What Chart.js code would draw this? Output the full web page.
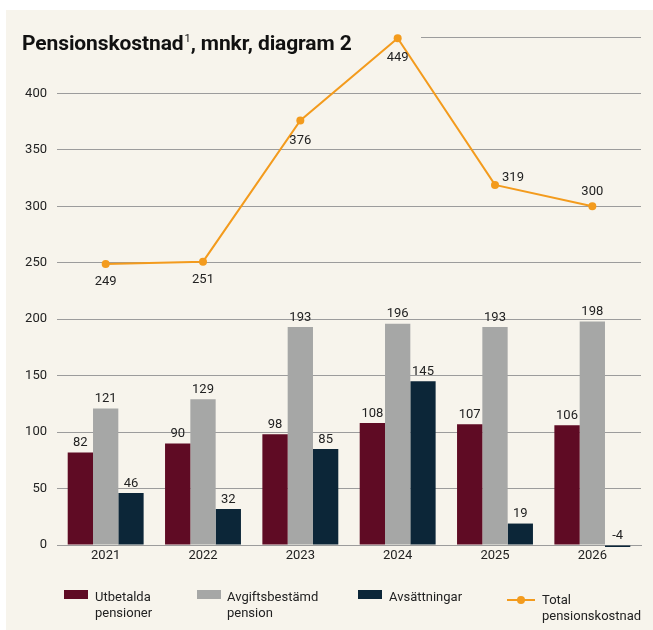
<!DOCTYPE html>
<html>
<head>
<meta charset="utf-8">
<script src="https://cdn.jsdelivr.net/npm/chart.js@4/dist/chart.umd.min.js"></script>
<style>
  html, body { margin: 0; padding: 0; background: #ffffff; }
  #panel {
    position: absolute; left: 6px; top: 10px; width: 647px; height: 620px;
    background: #f7f4ec; font-family: "Roboto", sans-serif;
  }
  #panel canvas { position: absolute; left: 0; top: 0; }
  .title {
    position: absolute; left: 16px; top: 21px; font-size: 21px; font-weight: bold;
    color: #111; white-space: nowrap; letter-spacing: -0.1px;
  }
  .title sup { font-size: 11px; font-weight: normal; vertical-align: 8px; margin-left: 1px; }
  .legend-item { position: absolute; font-size: 13px; color: #222; line-height: 16px; }
  .swatch { position: absolute; width: 24px; height: 9px; }
</style>
</head>
<body>
<div id="panel">
  <canvas id="chart" width="647" height="620"></canvas>
  <div class="title">Pensionskostnad<sup>1</sup>, mnkr, diagram 2</div>
  <div id="legend"></div>
</div>
<script>
  const years = ['2021', '2022', '2023', '2024', '2025', '2026'];
  const utbetalda = [82, 90, 98, 108, 107, 106];
  const avgiftsbestamd = [121, 129, 193, 196, 193, 198];
  const avsattningar = [46, 32, 85, 145, 19, -4];
  const totalKostnad = [249, 251, 376, 449, 319, 300];

  const colors = {
    red: '#5f0b24',
    grey: '#a6a7a6',
    navy: '#0c2638',
    orange: '#f39b1d',
    grid: '#9c9c9c',
    text: '#222222'
  };
  const FONT = '"Roboto", sans-serif';

  // where each total label sits relative to its point
  const totalLabelOffset = [[0, 18], [0, 18], [0, 20], [0, 20], [18, -7], [0, -15]];

  const valueLabels = {
    id: 'valueLabels',
    afterDatasetsDraw(chart) {
      const ctx = chart.ctx;
      ctx.save();
      ctx.font = '13px ' + FONT;
      ctx.fillStyle = colors.text;
      ctx.textAlign = 'center';
      chart.data.datasets.forEach((ds, di) => {
        const meta = chart.getDatasetMeta(di);
        meta.data.forEach((el, i) => {
          const v = ds.data[i];
          if (ds.type === 'line') {
            const off = totalLabelOffset[i];
            ctx.textBaseline = 'middle';
            ctx.fillText(String(v), el.x + off[0], el.y + off[1]);
          } else {
            ctx.textBaseline = 'bottom';
            const top = Math.min(el.y, el.base);
            ctx.fillText(String(v), el.x, top - 3);
          }
        });
      });
      ctx.restore();
    }
  };

  // the title sits over the left part of the top gridline
  const titleGap = {
    id: 'titleGap',
    beforeDatasetsDraw(chart) {
      const y = chart.scales.y.getPixelForValue(450);
      const ctx = chart.ctx;
      ctx.save();
      ctx.fillStyle = '#f7f4ec';
      ctx.fillRect(chart.chartArea.left - 2, y - 2, 417 - chart.chartArea.left, 4);
      ctx.restore();
    }
  };

  new Chart(document.getElementById('chart'), {
    data: {
      labels: years,
      datasets: [
        {
          type: 'line', label: 'Total pensionskostnad', data: totalKostnad,
          borderColor: colors.orange, backgroundColor: colors.orange,
          borderWidth: 2, pointRadius: 4, pointBackgroundColor: colors.orange,
          pointBorderWidth: 0, tension: 0, order: 0, clip: false
        },
        { type: 'bar', label: 'Utbetalda pensioner', data: utbetalda, backgroundColor: colors.red, order: 1 },
        { type: 'bar', label: 'Avgiftsbestämd pension', data: avgiftsbestamd, backgroundColor: colors.grey, order: 1 },
        {
          type: 'bar', label: 'Avsättningar', data: avsattningar, backgroundColor: colors.navy, order: 1,
          clip: { left: 0, top: 0, right: 2, bottom: 2 }
        }
      ]
    },
    options: {
      responsive: false,
      animation: false,
      layout: { padding: { top: 27, right: 12, left: 0, bottom: 0 } },
      datasets: { bar: { categoryPercentage: 0.78, barPercentage: 1.0 } },
      plugins: { legend: { display: false }, tooltip: { enabled: false } },
      scales: {
        x: {
          grid: { display: false, drawTicks: false },
          border: { color: colors.grid, width: 1 },
          ticks: { color: colors.text, font: { family: FONT, size: 13 }, padding: 3 },
          afterFit(scale) { scale.height = 85; }
        },
        y: {
          min: 0, max: 450,
          grid: { color: colors.grid, drawTicks: false },
          border: { display: false },
          ticks: {
            stepSize: 50, color: colors.text, font: { family: FONT, size: 13 }, padding: 10,
            callback: v => (v === 450 ? '' : v)
          },
          afterFit(scale) { scale.width = 51; }
        }
      }
    },
    plugins: [valueLabels, titleGap]
  });

  const legendItems = [
    { text: 'Utbetalda<br>pensioner', color: colors.red, box: 58, label: 89, kind: 'box' },
    { text: 'Avgiftsbestämd<br>pension', color: colors.grey, box: 191, label: 221, kind: 'box' },
    { text: 'Avsättningar', color: colors.navy, box: 352, label: 383, kind: 'box' },
    { text: 'Total<br>pensionskostnad', color: colors.orange, box: 501, label: 536, kind: 'line' }
  ];
  const legend = document.getElementById('legend');
  legendItems.forEach(it => {
    if (it.kind === 'box') {
      const s = document.createElement('div');
      s.className = 'swatch';
      s.style.left = it.box + 'px';
      s.style.top = '580px';
      s.style.background = it.color;
      legend.appendChild(s);
    } else {
      const l = document.createElement('div');
      l.style.cssText = `position:absolute;left:${it.box}px;top:589px;width:28px;height:2px;background:${it.color}`;
      legend.appendChild(l);
      const d = document.createElement('div');
      d.style.cssText = `position:absolute;left:${it.box + 10}px;top:586px;width:8px;height:8px;border-radius:50%;background:${it.color}`;
      legend.appendChild(d);
    }
    const t = document.createElement('div');
    t.className = 'legend-item';
    t.style.left = it.label + 'px';
    t.style.top = (it.kind === 'line' ? 582 : 579) + 'px';
    t.innerHTML = it.text;
    legend.appendChild(t);
  });
</script>
</body>
</html>
